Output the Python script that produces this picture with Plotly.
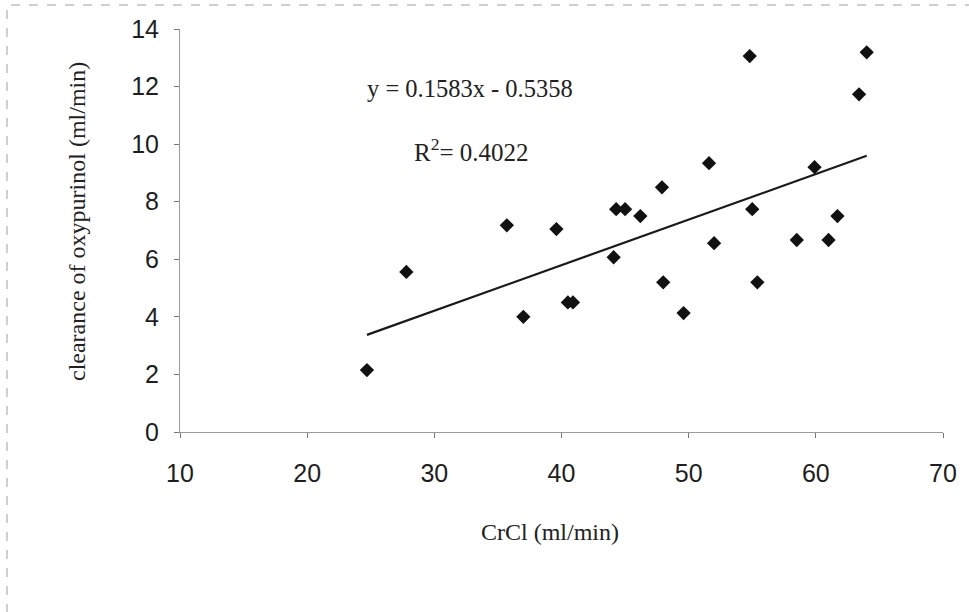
import plotly.graph_objects as go

# Data
crcl = [24.7, 27.8, 35.7, 39.6, 37.0, 40.5, 40.9, 44.3, 45.0, 46.2, 47.9, 51.6,
        54.8, 64.0, 63.4, 59.9, 55.0, 61.7, 52.0, 58.5, 61.0, 44.1, 48.0, 55.4, 49.6]
clearance = [2.15, 5.56, 7.18, 7.05, 4.0, 4.5, 4.5, 7.74, 7.74, 7.5, 8.5, 9.34,
             13.06, 13.19, 11.73, 9.2, 7.74, 7.5, 6.56, 6.67, 6.67, 6.07, 5.2, 5.2, 4.13]
slope = 0.1583
intercept = -0.5358
r2 = 0.4022
x_ticks = [10, 20, 30, 40, 50, 60, 70]
y_ticks = [0, 2, 4, 6, 8, 10, 12, 14]

xmin, xmax = min(crcl), max(crcl)
trend_x = [xmin, xmax]
trend_y = [slope * v + intercept for v in trend_x]

fig = go.Figure()
fig.add_trace(go.Scatter(x=trend_x, y=trend_y, mode="lines",
                         line=dict(color="#1a1a1a", width=2.2), showlegend=False))
fig.add_trace(go.Scatter(x=crcl, y=clearance, mode="markers",
                         marker=dict(symbol="diamond", size=11, color="#111111"),
                         showlegend=False))

tickfont = dict(family="Liberation Sans, Arial", size=25, color="#1e1e1e")
serif = "Liberation Serif, Times New Roman"

fig.update_layout(
    width=969, height=612,
    margin=dict(l=180, r=26, t=29, b=180),
    paper_bgcolor="white", plot_bgcolor="white",
    xaxis=dict(range=[10, 70], tickvals=x_ticks, showgrid=False, zeroline=False,
               showline=True, linecolor="#9a9a9a", linewidth=1,
               ticks="outside", ticklen=5, tickcolor="#777777",
               tickfont=tickfont, ticklabelstandoff=14),
    yaxis=dict(range=[0, 14], tickvals=y_ticks, showgrid=False, zeroline=False,
               showline=True, linecolor="#9a9a9a", linewidth=1,
               ticks="outside", ticklen=5, tickcolor="#777777",
               tickfont=tickfont, ticklabelstandoff=10),
    annotations=[
        dict(x=(365 - 180) / 763, y=(432 - 88) / 403, xref="paper", yref="paper",
             xanchor="left", yanchor="middle", showarrow=False,
             text=f"y = {slope:.4f}x - {abs(intercept):.4f}",
             font=dict(family=serif, size=24.5, color="#222222")),
        dict(x=(412 - 180) / 763, y=(432 - 150) / 403, xref="paper", yref="paper",
             xanchor="left", yanchor="middle", showarrow=False,
             text=f"R<sup>2</sup>= {r2:.4f}",
             font=dict(family=serif, size=25, color="#222222")),
        dict(x=(550 - 180) / 763, y=(432 - 532) / 403, xref="paper", yref="paper",
             xanchor="center", yanchor="middle", showarrow=False,
             text="CrCl (ml/min)",
             font=dict(family=serif, size=24, color="#222222")),
        dict(x=(77 - 180) / 763, y=(432 - 222) / 403, xref="paper", yref="paper",
             xanchor="center", yanchor="middle", showarrow=False, textangle=-90,
             text="clearance of oxypurinol (ml/min)",
             font=dict(family=serif, size=24, color="#222222")),
    ],
    shapes=[
        dict(type="rect", xref="paper", yref="paper",
             x0=(7 - 180) / 763, x1=(975 - 180) / 763,
             y0=(432 - 620) / 403, y1=(432 - 5) / 403,
             line=dict(color="#a0a0a0", width=1, dash="dash"), layer="below"),
    ],
)

fig.write_html("out.html")
